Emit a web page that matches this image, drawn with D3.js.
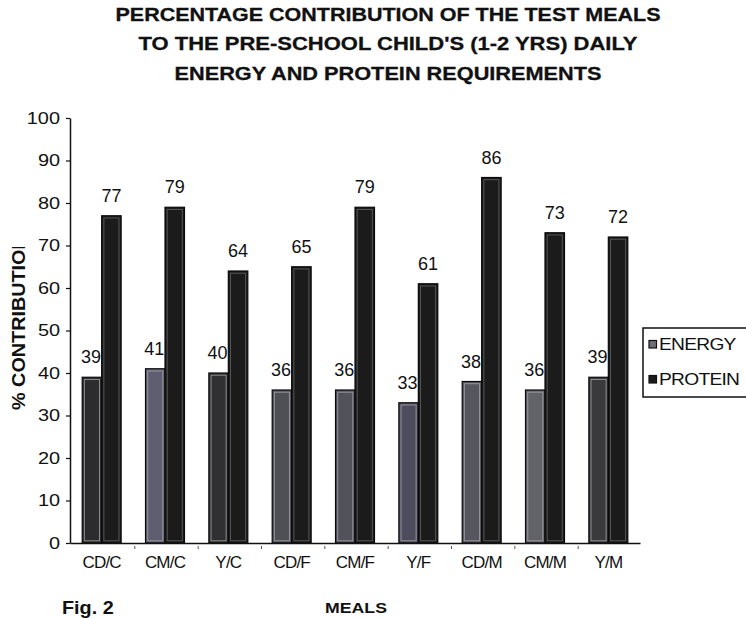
<!DOCTYPE html>
<html>
<head>
<meta charset="utf-8">
<script src="https://cdn.jsdelivr.net/npm/d3@7"></script>
<style>
  html, body { margin: 0; padding: 0; background: #fff; }
  svg { display: block; font-family: "Liberation Sans", Arial, Helvetica, sans-serif; }
</style>
</head>
<body>
<svg id="chart" width="746" height="619"></svg>
<script>
// ---- data ----
const meals = ["CD/C", "CM/C", "Y/C", "CD/F", "CM/F", "Y/F", "CD/M", "CM/M", "Y/M"];
const series = ["ENERGY", "PROTEIN"];
const energy = [39, 41, 40, 36, 36, 33, 38, 36, 39];
const protein = [77, 79, 64, 65, 79, 61, 86, 73, 72];
const yTicks = [0, 10, 20, 30, 40, 50, 60, 70, 80, 90, 100];
const titleLines = [
  "PERCENTAGE CONTRIBUTION OF THE TEST MEALS",
  "TO THE PRE-SCHOOL CHILD'S (1-2 YRS) DAILY",
  "ENERGY AND PROTEIN REQUIREMENTS"
];

// ---- styles (not data) ----
const energyShades = ["#2c2c2e", "#5e5e70", "#303032", "#4f4f56", "#52525a", "#4c4c5e", "#56565f", "#626269", "#3a3a3c"];
const proteinFill = "#1b1b1b";
const SX = 1.17; // horizontal text stretch of the scan

const svg = d3.select("#chart");
const rows = meals.map((m, i) => ({ meal: m, ENERGY: energy[i], PROTEIN: protein[i], i }));

const x = d3.scaleBand().domain(meals).range([70, 640]).paddingInner(0.385).paddingOuter(0.1925);
const x1 = d3.scaleBand().domain(series).range([0, x.bandwidth()]);
const y = d3.scaleLinear().domain([0, 100]).range([543, 118]);

function stretchText(sel, x0, y0, sx) {
  sel.attr("x", 0).attr("y", 0).attr("transform", `translate(${x0},${y0}) scale(${sx},1)`);
}

// ---- title ----
const titleW = [545, 499, 427];
titleLines.forEach((t, k) => {
  svg.append("text")
    .attr("x", 388).attr("y", 21 + k * 29.3)
    .attr("text-anchor", "middle")
    .attr("font-size", 19).attr("font-weight", "bold")
    .attr("textLength", titleW[k]).attr("lengthAdjust", "spacingAndGlyphs")
    .attr("fill", "#111").attr("stroke", "#111").attr("stroke-width", 0.3)
    .text(t);
});

// ---- bars ----
const g = svg.append("g");
const groups = g.selectAll("g.grp").data(rows).join("g")
  .attr("class", "grp")
  .attr("transform", d => `translate(${x(d.meal)},0)`);

series.forEach(s => {
  const fillOf = d => s === "ENERGY" ? energyShades[d.i] : proteinFill;
  groups.append("rect")
    .attr("x", x1(s)).attr("y", d => y(d[s]))
    .attr("width", x1.bandwidth()).attr("height", d => y(0) - y(d[s]))
    .attr("fill", fillOf)
    .attr("stroke", "#0a0a0a").attr("stroke-width", 1.2);
  groups.append("rect")
    .attr("x", x1(s) + 2.2).attr("y", d => y(d[s]) + 2.2)
    .attr("width", x1.bandwidth() - 4.4).attr("height", d => Math.max(0, y(0) - y(d[s]) - 4.4))
    .attr("fill", "none")
    .attr("stroke", s === "ENERGY" ? "#a8a8b0" : "#6a6a6a").attr("stroke-width", 1).attr("opacity", 0.75);
  groups.append("text")
    .attr("x", x1(s) + x1.bandwidth() / 2 + (s === "ENERGY" ? -1 : 0))
    .attr("y", d => y(d[s]) - 14)
    .attr("text-anchor", "middle")
    .attr("font-size", 18).attr("fill", "#111")
    .text(d => d[s]);
});

// ---- y axis ----
const yAxis = svg.append("g").attr("transform", "translate(70,0)")
  .call(d3.axisLeft(y).tickValues(yTicks).tickSize(4).tickSizeOuter(0).tickPadding(10));
yAxis.select(".domain").attr("stroke", "#111").attr("stroke-width", 1.5);
yAxis.selectAll(".tick line").attr("stroke", "#111").attr("stroke-width", 1.2);
yAxis.selectAll(".tick text")
  .attr("font-size", 17).attr("fill", "#111").attr("font-family", "Liberation Sans, Arial, sans-serif")
  .attr("x", -10 / SX).attr("transform", `scale(${SX},1)`);

// ---- x axis ----
const xAxis = svg.append("g").attr("transform", `translate(0,${y(0)})`)
  .call(d3.axisBottom(x).tickSize(0).tickPadding(13).tickSizeOuter(0));
xAxis.select(".domain").attr("stroke", "#111").attr("stroke-width", 1.5);
xAxis.selectAll(".tick text")
  .attr("font-size", 17).attr("fill", "#111").attr("letter-spacing", "-0.8")
  .attr("font-family", "Liberation Sans, Arial, sans-serif");
// small separator ticks between categories
xAxis.selectAll("line.sep").data(meals.slice(1)).join("line")
  .attr("class", "sep")
  .attr("x1", d => x(d) - x.step() * x.paddingInner() / 2 + 1.5)
  .attr("x2", d => x(d) - x.step() * x.paddingInner() / 2 + 1.5)
  .attr("y1", 3).attr("y2", 6)
  .attr("stroke", "#555").attr("stroke-width", 1);

// ---- axis titles ----
svg.append("defs").append("clipPath").attr("id", "yclip")
  .append("rect").attr("x", 0).attr("y", 247).attr("width", 40).attr("height", 200);
svg.append("g").attr("clip-path", "url(#yclip)")
  .append("text")
  .attr("transform", "translate(25,410) rotate(-90) scale(1.1,1)")
  .attr("text-anchor", "start")
  .attr("font-size", 18).attr("font-weight", "bold").attr("fill", "#111")
  .text("% CONTRIBUTION");

const mt = svg.append("text").attr("text-anchor", "middle")
  .attr("font-size", 15.5).attr("font-weight", "bold").attr("fill", "#111").text("MEALS");
stretchText(mt, 356, 613, 1.14);

const fig = svg.append("text").attr("text-anchor", "start")
  .attr("font-size", 18).attr("font-weight", "bold").attr("fill", "#111").text("Fig. 2");
stretchText(fig, 62, 614, 1.1);

// ---- legend ----
const lg = svg.append("g");
lg.append("rect").attr("x", 643).attr("y", 328).attr("width", 120).attr("height", 69)
  .attr("fill", "#fff").attr("stroke", "#111").attr("stroke-width", 1.5);
const legendFill = { ENERGY: "#6e6e78", PROTEIN: proteinFill };
series.forEach((s, k) => {
  const cy = 344 + k * 35;
  lg.append("rect").attr("x", 649).attr("y", cy - 3.5).attr("width", 7.5).attr("height", 7.5)
    .attr("fill", legendFill[s]).attr("stroke", "#111").attr("stroke-width", 1.2);
  const t = lg.append("text").attr("font-size", 16).attr("fill", "#111")
    .attr("letter-spacing", "-0.6").text(s);
  stretchText(t, 659, cy + 6, 1.2);
});
</script>
</body>
</html>
